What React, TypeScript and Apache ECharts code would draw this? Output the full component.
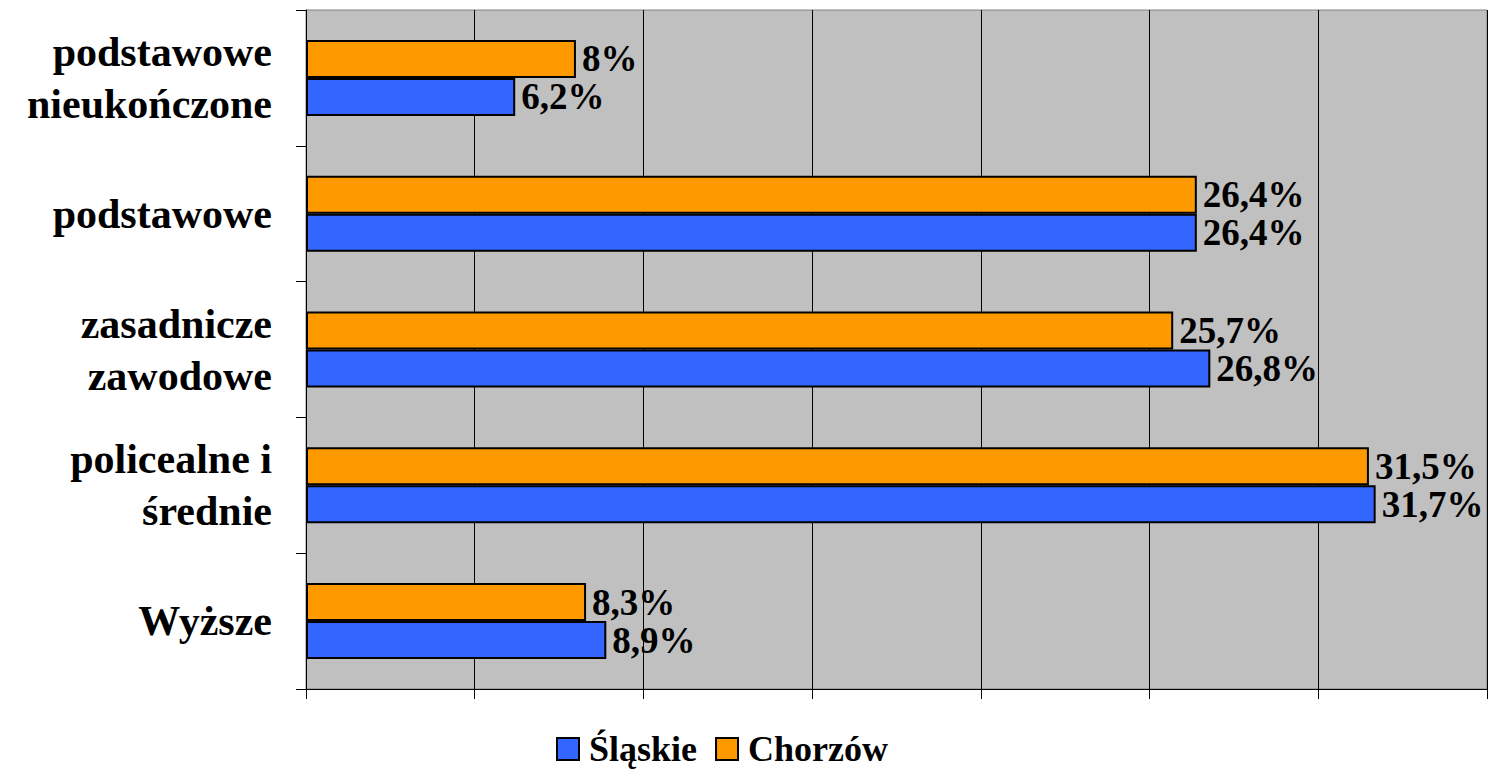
import React, { useEffect, useRef } from "react";
import * as echarts from "echarts";

const categories = [
  "podstawowe\nnieukończone",
  "podstawowe",
  "zasadnicze\nzawodowe",
  "policealne i\nśrednie",
  "Wyższe",
];
const slaskie = [6.2, 26.4, 26.8, 31.7, 8.9];
const chorzow = [8, 26.4, 25.7, 31.5, 8.3];
const seriesNames = ["Śląskie", "Chorzów"];
const axisMax = 35;
const axisInterval = 5;

const FONT = "'Liberation Serif', 'Times New Roman', serif";

const fmt = (v: number) => String(v).replace(".", ",") + "%";

export default function App() {
  const ref = useRef<HTMLDivElement>(null);
  useEffect(() => {
    document.body.style.margin = "0";
    const chart = echarts.init(ref.current!, null, { renderer: "svg" });
    const labelStyle = {
      show: true,
      position: "right" as const,
      distance: 6,
      color: "#000",
      fontFamily: FONT,
      fontWeight: "bold" as const,
      fontSize: 37,
      formatter: (p: any) => fmt(p.value),
    };
    chart.setOption({
      animation: false,
      backgroundColor: "#fff",
      legend: {
        data: seriesNames,
        left: 556,
        top: 731,
        padding: 0,
        icon: "rect",
        itemWidth: 22,
        itemHeight: 22,
        itemGap: 18,
        textStyle: {
          fontFamily: FONT,
          fontWeight: "bold",
          fontSize: 36,
          lineHeight: 36,
          color: "#000",
          padding: [0, 0, 0, 5],
        },
      },
      grid: {
        left: 306,
        right: 4,
        top: 10,
        bottom: 81,
        show: true,
        backgroundColor: "#C0C0C0",
        borderColor: "#808080",
        borderWidth: 1,
      },
      xAxis: {
        type: "value",
        min: 0,
        max: axisMax,
        interval: axisInterval,
        axisLabel: { show: false },
        axisLine: { show: true, lineStyle: { color: "#000", width: 1 } },
        axisTick: { show: true, inside: false, length: 10, lineStyle: { color: "#000" } },
        splitLine: { show: true, lineStyle: { color: "#000", width: 1 } },
      },
      yAxis: {
        type: "category",
        data: categories,
        inverse: true,
        axisLine: { show: true, lineStyle: { color: "#000", width: 1 } },
        axisTick: { show: true, inside: false, length: 10, lineStyle: { color: "#000" } },
        axisLabel: {
          margin: 34,
          align: "right",
          color: "#000",
          fontFamily: FONT,
          fontWeight: "bold",
          fontSize: 42,
          lineHeight: 52,
        },
        splitLine: { show: false },
      },
      series: [
        {
          name: "Chorzów",
          type: "bar",
          data: chorzow,
          barWidth: 38,
          barGap: "0%",
          itemStyle: { color: "#FF9900", borderColor: "#000", borderWidth: 2 },
          label: labelStyle,
        },
        {
          name: "Śląskie",
          type: "bar",
          data: slaskie,
          barWidth: 38,
          barGap: "0%",
          itemStyle: { color: "#3366FF", borderColor: "#000", borderWidth: 2 },
          label: labelStyle,
        },
      ],
    });
    return () => chart.dispose();
  }, []);
  return <div ref={ref} style={{ width: 1491, height: 770 }} />;
}
